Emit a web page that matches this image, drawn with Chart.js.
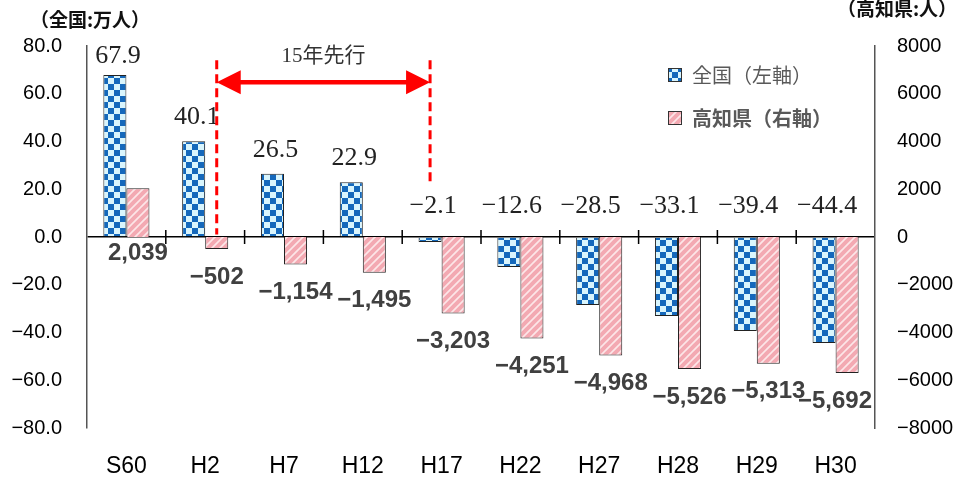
<!DOCTYPE html>
<html>
<head>
<meta charset="utf-8">
<script src="https://cdn.jsdelivr.net/npm/chart.js@4.4.1/dist/chart.umd.min.js"></script>
<style>
    html, body { margin: 0; padding: 0; background: #fff; }
    #wrap { width: 957px; height: 484px; }
</style>
</head>
<body>
<div id="wrap"><canvas id="myChart" width="957" height="484"></canvas></div>
<script>
// Data
const categories = ['S60', 'H2', 'H7', 'H12', 'H17', 'H22', 'H27', 'H28', 'H29', 'H30'];
const nationalValues = [67.9, 40.1, 26.5, 22.9, -2.1, -12.6, -28.5, -33.1, -39.4, -44.4];
const kochiValues = [2039, -502, -1154, -1495, -3203, -4251, -4968, -5526, -5313, -5692];
const seriesNames = ['全国（左軸）', '高知県（右軸）'];
const leftAxisRange = [-80, 80, 20];
const rightAxisRange = [-8000, 8000, 2000];
const leftUnit = '（全国:万人）';
const rightUnit = '（高知県:人）';
const leadText = '15年先行';

const MINUS = '\u2212';

// Fill patterns
function checkerPattern() {
    const c = document.createElement('canvas');
    c.width = 12; c.height = 12;
    const g = c.getContext('2d');
    g.fillStyle = '#d9f5fd';
    g.fillRect(0, 0, 12, 12);
    g.fillStyle = '#1468bb';
    g.fillRect(0, 0, 6, 6);
    g.fillRect(6, 6, 6, 6);
    return g.createPattern(c, 'repeat');
}

function stripePattern() {
    const c = document.createElement('canvas');
    c.width = 8; c.height = 8;
    const g = c.getContext('2d');
    g.fillStyle = '#fce6e8';
    g.fillRect(0, 0, 8, 8);
    g.strokeStyle = '#f3a9b2';
    g.lineWidth = 4;
    g.beginPath();
    g.moveTo(-2, 10); g.lineTo(10, -2);
    g.moveTo(-6, 6); g.lineTo(6, -6);
    g.moveTo(2, 14); g.lineTo(14, 2);
    g.stroke();
    return g.createPattern(c, 'repeat');
}

const blueFill = checkerPattern();
const pinkFill = stripePattern();

function fmtLeft(v) {
    return (v < 0 ? MINUS : '') + Math.abs(v).toFixed(1);
}
function fmtRight(v) {
    return (v < 0 ? MINUS : '') + Math.abs(v);
}
function fmtKochi(v) {
    return (v < 0 ? MINUS : '') + Math.abs(v).toLocaleString('en-US');
}

// Custom drawing: axis units, legend, bar labels, tick marks and the annotation
const extrasPlugin = {
    id: 'extras',
    afterDatasetsDraw(chart) {
        const ctx = chart.ctx;
        const area = chart.chartArea;
        const x = chart.scales.x;
        const y = chart.scales.y;
        const yZero = y.getPixelForValue(0);
        const metaN = chart.getDatasetMeta(0);
        const metaK = chart.getDatasetMeta(1);

        ctx.save();

        // category tick marks on the zero line
        ctx.strokeStyle = '#000';
        ctx.lineWidth = 1.5;
        ctx.beginPath();
        for (let i = 1; i < categories.length; i++) {
            const bx = (x.getPixelForTick(i - 1) + x.getPixelForTick(i)) / 2;
            ctx.moveTo(bx, yZero - 7);
            ctx.lineTo(bx, yZero + 7);
        }
        ctx.stroke();

        // national labels (serif)
        ctx.font = '26px "Liberation Serif", serif';
        ctx.fillStyle = '#222';
        ctx.textAlign = 'center';
        ctx.textBaseline = 'middle';
        metaN.data.forEach(function(bar, i) {
            const v = nationalValues[i];
            let ly = v >= 0 ? Math.max(bar.y - 24, area.top + 10) : yZero - 31;
            ctx.fillText(fmtLeft(v), bar.x + 3, ly);
        });

        // Kochi labels (bold sans)
        ctx.font = 'bold 24px "Liberation Sans", sans-serif';
        ctx.fillStyle = '#404040';
        metaK.data.forEach(function(bar, i) {
            const v = kochiValues[i];
            const txt = fmtKochi(v);
            const w = ctx.measureText(txt).width;
            let lx = Math.min(bar.x, area.right - w / 2 - 3);
            let ly = v >= 0 ? yZero + 16 : bar.y + 28;
            ctx.fillText(txt, lx, ly);
        });

        // annotation: Kochi H2 vs national H17
        const xA = metaK.data[1].x;
        const xB = metaN.data[4].x;
        const yTop = y.getPixelForValue(74);
        const yArrow = y.getPixelForValue(64.8);
        ctx.strokeStyle = '#ff0000';
        ctx.fillStyle = '#ff0000';
        ctx.lineWidth = 3;
        ctx.setLineDash([9, 5]);
        ctx.beginPath();
        ctx.moveTo(xA, yTop); ctx.lineTo(xA, y.getPixelForValue(1));
        ctx.moveTo(xB, yTop); ctx.lineTo(xB, y.getPixelForValue(22));
        ctx.stroke();
        ctx.setLineDash([]);
        ctx.lineWidth = 4.5;
        ctx.beginPath();
        ctx.moveTo(xA + 20, yArrow); ctx.lineTo(xB - 20, yArrow);
        ctx.stroke();
        ctx.beginPath();
        ctx.moveTo(xA, yArrow); ctx.lineTo(xA + 24, yArrow - 12); ctx.lineTo(xA + 24, yArrow + 12); ctx.closePath();
        ctx.moveTo(xB, yArrow); ctx.lineTo(xB - 24, yArrow - 12); ctx.lineTo(xB - 24, yArrow + 12); ctx.closePath();
        ctx.fill();
        ctx.font = '21px "Liberation Serif", "Noto Sans CJK JP", serif';
        ctx.fillStyle = '#333';
        ctx.fillText(leadText, (xA + xB) / 2, y.getPixelForValue(75.4));

        // legend
        const fills = [blueFill, pinkFill];
        const weights = ['normal', 'bold'];
        const rows = [75, 118];
        ctx.textAlign = 'left';
        for (let i = 0; i < 2; i++) {
            ctx.fillStyle = fills[i];
            ctx.fillRect(668, rows[i] - 7, 14, 14);
            ctx.strokeStyle = '#333';
            ctx.lineWidth = 1;
            ctx.strokeRect(668.5, rows[i] - 6.5, 13, 13);
            ctx.fillStyle = '#595959';
            ctx.font = weights[i] + ' 20px "Noto Sans CJK JP", sans-serif';
            ctx.fillText(seriesNames[i], 692, rows[i]);
        }

        // axis units
        ctx.fillStyle = '#111';
        ctx.font = 'bold 19px "Noto Sans CJK JP", sans-serif';
        ctx.textAlign = 'center';
        ctx.fillText(leftUnit, 90, 20);
        ctx.fillText(rightUnit, 897, 9);

        ctx.restore();
    }
};

Chart.defaults.font.family = '"Liberation Sans", Arial, sans-serif';
Chart.defaults.color = '#000';

const ctxBar = document.getElementById('myChart').getContext('2d');
const myChart = new Chart(ctxBar, {
    type: 'bar',
    data: {
        labels: categories,
        datasets: [{
            label: seriesNames[0],
            data: nationalValues,
            yAxisID: 'y',
            backgroundColor: blueFill,
            borderColor: '#222',
            borderWidth: 1,
            categoryPercentage: 0.585,
            barPercentage: 1
        }, {
            label: seriesNames[1],
            data: kochiValues,
            yAxisID: 'y1',
            backgroundColor: pinkFill,
            borderColor: '#222',
            borderWidth: 1,
            categoryPercentage: 0.585,
            barPercentage: 1
        }]
    },
    options: {
        responsive: false,
        animation: false,
        layout: { padding: { top: 46, left: 0, right: 0, bottom: 0 } },
        plugins: {
            legend: { display: false },
            tooltip: { enabled: false }
        },
        scales: {
            x: {
                grid: { display: false, drawTicks: false },
                border: { display: false },
                ticks: { font: { size: 23 }, padding: 25, color: '#000' },
                afterFit: function(s) { s.height = 56; }
            },
            y: {
                position: 'left',
                min: leftAxisRange[0],
                max: leftAxisRange[1],
                ticks: {
                    stepSize: leftAxisRange[2],
                    font: { size: 20 },
                    padding: 25,
                    color: '#000',
                    callback: function(v) { return fmtLeft(v); }
                },
                grid: {
                    drawTicks: false,
                    lineWidth: 1.5,
                    color: function(c) { return c.tick && c.tick.value === 0 ? '#000' : 'rgba(0,0,0,0)'; }
                },
                border: { display: true, color: '#555', width: 1.5 },
                afterFit: function(s) { s.width = 87; }
            },
            y1: {
                position: 'right',
                min: rightAxisRange[0],
                max: rightAxisRange[1],
                ticks: {
                    stepSize: rightAxisRange[2],
                    font: { size: 20 },
                    padding: 22,
                    color: '#000',
                    callback: function(v) { return fmtRight(v); }
                },
                grid: { display: false, drawTicks: false },
                border: { display: true, color: '#555', width: 1.5 },
                afterFit: function(s) { s.width = 82; }
            }
        }
    },
    plugins: [extrasPlugin]
});
</script>
</body>
</html>
